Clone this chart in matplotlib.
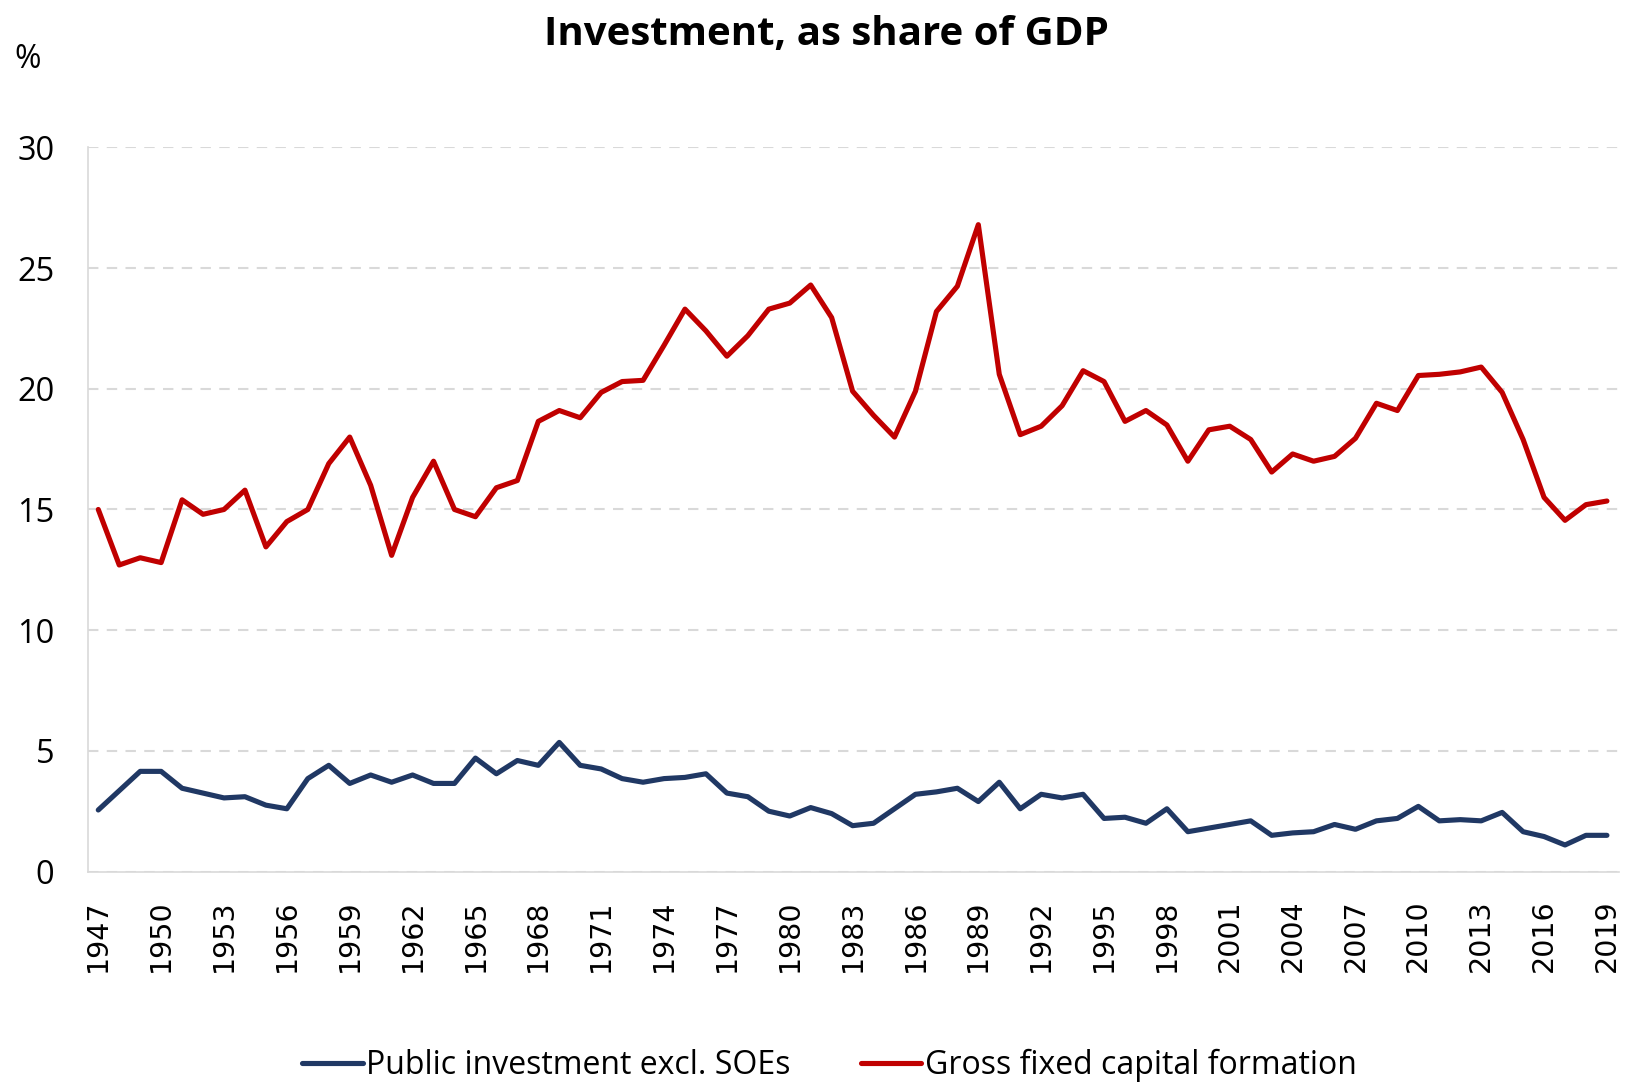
import matplotlib
matplotlib.use('Agg')
import matplotlib.pyplot as plt
import numpy as np

years = list(range(1947, 2020))

# Gross fixed capital formation, % of GDP
gfcf = [15.0, 12.7, 13.0, 12.8, 15.4, 14.8, 15.0, 15.8, 13.45, 14.5,
        15.0, 16.9, 18.0, 16.0, 13.1, 15.5, 17.0, 15.0, 14.7, 15.9,
        16.2, 18.65, 19.1, 18.8, 19.85, 20.3, 20.35, 21.8, 23.3, 22.4,
        21.35, 22.2, 23.3, 23.55, 24.3, 22.95, 19.9, 18.9, 18.0, 19.9,
        23.2, 24.25, 26.8, 20.6, 18.1, 18.45, 19.3, 20.75, 20.3, 18.65,
        19.1, 18.5, 17.0, 18.3, 18.45, 17.9, 16.55, 17.3, 17.0, 17.2,
        17.95, 19.4, 19.1, 20.55, 20.6, 20.7, 20.9, 19.85, 17.9, 15.5,
        14.55, 15.2, 15.35]

# Public investment excl. SOEs, % of GDP
public_inv = [2.55, 3.35, 4.15, 4.15, 3.45, 3.25, 3.05, 3.1, 2.75, 2.6,
              3.85, 4.4, 3.65, 4.0, 3.7, 4.0, 3.65, 3.65, 4.7, 4.05,
              4.6, 4.4, 5.35, 4.4, 4.25, 3.85, 3.7, 3.85, 3.9, 4.05,
              3.25, 3.1, 2.5, 2.3, 2.65, 2.4, 1.9, 2.0, 2.6, 3.2,
              3.3, 3.45, 2.9, 3.7, 2.6, 3.2, 3.05, 3.2, 2.2, 2.25,
              2.0, 2.6, 1.65, 1.8, 1.95, 2.1, 1.5, 1.6, 1.65, 1.95,
              1.75, 2.1, 2.2, 2.7, 2.1, 2.15, 2.1, 2.45, 1.65, 1.45,
              1.1, 1.5, 1.5]

year_ticks = years[::3]
y_ticks = [0, 5, 10, 15, 20, 25, 30]

plt.rcParams['font.family'] = ['Open Sans', 'DejaVu Sans']

fig = plt.figure(figsize=(16.26, 10.84), dpi=100)
ax = fig.add_axes([0.054, 0.196, 0.942, 0.668])

ax.plot(years, public_inv, color='#203864', lw=3.7, label='Public investment excl. SOEs',
        solid_joinstyle='round', solid_capstyle='round')
ax.plot(years, gfcf, color='#C00000', lw=3.7, label='Gross fixed capital formation',
        solid_joinstyle='round', solid_capstyle='round')

ax.set_xlim(1946.5, 2019.6)
ax.set_ylim(0, 30)
ax.set_yticks(y_ticks)
ax.set_xticks(year_ticks)
ax.set_xticklabels([str(y) for y in year_ticks], rotation=90, fontsize=20.5,
                   family='DejaVu Sans')
ax.tick_params(axis='y', labelsize=23.5, length=0, pad=24)
ax.tick_params(axis='x', length=0, pad=20)

ax.yaxis.grid(True, color='#D9D9D9', ls=(0, (5, 4)), lw=1.5)
ax.set_axisbelow(True)
for s in ['top', 'right']:
    ax.spines[s].set_visible(False)
ax.spines['left'].set_color('#D9D9D9')
ax.spines['bottom'].set_color('#D9D9D9')
ax.spines['left'].set_linewidth(1.2)
ax.spines['bottom'].set_linewidth(1.2)

fig.text(0.508, 0.968, 'Investment, as share of GDP', ha='center', va='center',
         fontsize=29, fontweight='bold')
fig.text(0.017, 0.945, '%', ha='center', va='center', fontsize=23)

fig.legend(loc='center', bbox_to_anchor=(0.51, 0.017), ncol=2, frameon=False,
           fontsize=23, handlelength=1.9, handletextpad=0.1, columnspacing=2.2)

fig.savefig('out.png', dpi=100)
